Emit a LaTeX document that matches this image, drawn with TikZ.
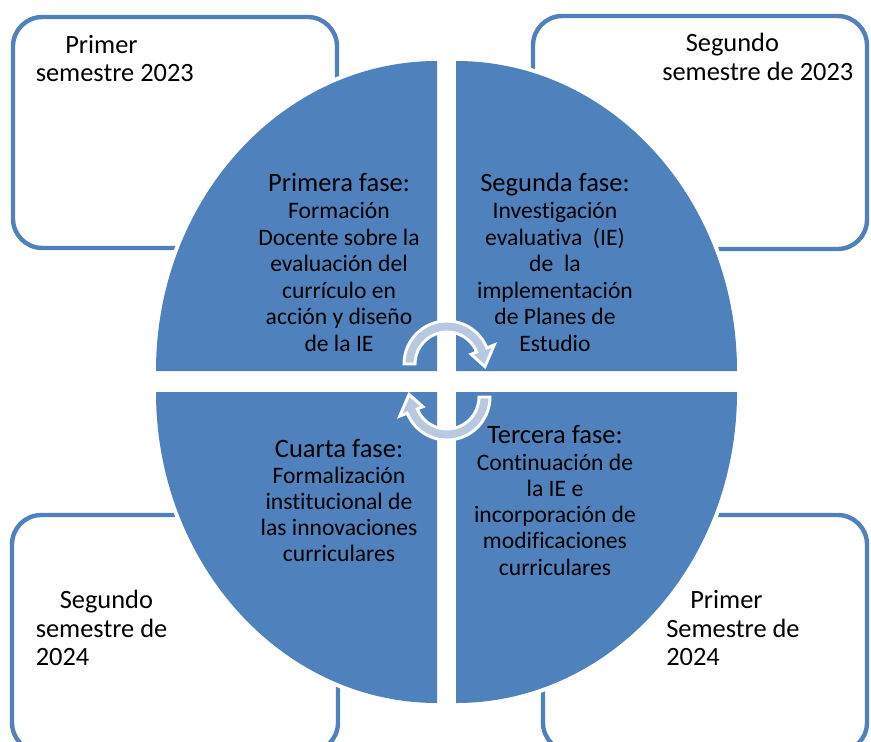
\documentclass[tikz,border=0pt]{standalone}
\usepackage{fontspec}
\setmainfont{Carlito}[Ligatures={NoCommon,NoContextual}]
\definecolor{blueone}{RGB}{79,129,189}
\definecolor{arrowfill}{RGB}{185,200,225}
\tikzset{
  boxline/.style={draw=blueone, line width=3.3pt, rounded corners=22pt, fill=white},
  quad/.style={fill=blueone, preaction={draw=white, line width=6pt}},
  cyc/.style={fill=arrowfill, draw=white, line width=2.2pt, line join=miter},
  ttl/.style={font=\fontsize{19.9}{22}\selectfont, inner sep=0pt, anchor=base},
  body/.style={font=\fontsize{17.7}{20}\selectfont, inner sep=0pt, anchor=base},
  corner/.style={font=\fontsize{19.8}{22}\selectfont, inner sep=0pt, anchor=base west}
}
\begin{document}
\begin{tikzpicture}[x=0.75pt, y=-0.75pt]
\path[use as bounding box, fill=white] (0,0) rectangle (871,742);

% corner boxes
\draw[boxline] (13,17) rectangle (337,248);
\draw[boxline] (533,16) rectangle (867,249);
\draw[boxline] (12,515) rectangle (338,752);
\draw[boxline] (543,515) rectangle (867,752);

% quadrants
\path[quad] (156,371) arc[start angle=180, end angle=90, x radius=210.75pt, y radius=232.5pt] -- (437,371) -- cycle;
\path[quad] (456,61) arc[start angle=90, end angle=0, x radius=210.75pt, y radius=232.5pt] -- (456,371) -- cycle;
\path[quad] (156,392) arc[start angle=180, end angle=270, x radius=210.75pt, y radius=233.25pt] -- (437,392) -- cycle;
\path[quad] (456,703) arc[start angle=270, end angle=360, x radius=210.75pt, y radius=233.25pt] -- (456,392) -- cycle;

% circular arrows
\begin{scope}[shift={(447,364)}]
\path[cyc] (180:24pt) -- (180:32.25pt) arc[start angle=180, end angle=22, radius=32.25pt]
  -- (22:38.25pt) -- (-4:28.5pt) -- (22:19.5pt) -- (22:24pt)
  arc[start angle=22, end angle=180, radius=24pt] -- cycle;
\end{scope}
\begin{scope}[shift={(447,397)}, rotate=180]
\path[cyc] (180:24pt) -- (180:32.25pt) arc[start angle=180, end angle=22, radius=32.25pt]
  -- (22:38.25pt) -- (-4:28.5pt) -- (22:19.5pt) -- (22:24pt)
  arc[start angle=22, end angle=180, radius=24pt] -- cycle;
\end{scope}

% phase texts
\node[ttl] (p1t) at (339,191.7) {Primera fase:};
\foreach \t [count=\i] in {Formación, Docente sobre la, evaluación del, currículo en, acción y diseño, de la IE}
  \node[body] (p1b\i) at (339,{218.7+26.5*(\i-1)}) {\t};

\node[ttl] (p2t) at (555,191.7) {Segunda fase:};
\foreach \t [count=\i] in {Investigación, {evaluativa\ \ (IE)}, {de\ \ la}, implementación, de Planes de, Estudio}
  \node[body] (p2b\i) at (555,{218.7+26.5*(\i-1)}) {\t};

\node[ttl] (p3t) at (555,443.3) {Tercera fase:};
\foreach \t [count=\i] in {Continuación de, la IE e, incorporación de, modificaciones, curriculares}
  \node[body] (p3b\i) at (555,{470.6+26.1*(\i-1)}) {\t};

\node[ttl] (p4t) at (339,457.3) {Cuarta fase:};
\foreach \t [count=\i] in {Formalización, institucional de, las innovaciones, curriculares}
  \node[body] (p4b\i) at (339,{483.5+26.1*(\i-1)}) {\t};

% corner texts
\node[corner] (c1a) at (65,54) {Primer};
\node[corner] (c1b) at (35.5,81.7) {semestre 2023};

\node[corner] (c2a) at (685.5,51.7) {Segundo};
\node[corner] (c2b) at (662,80) {semestre de 2023};

\node[corner] (c3a) at (59.5,608.3) {Segundo};
\node[corner] (c3b) at (35.5,637.3) {semestre de};
\node[corner] (c3c) at (35.5,665.7) {2024};

\node[corner] (c4a) at (690,608.3) {Primer};
\node[corner] (c4b) at (666,637.3) {Semestre de};
\node[corner] (c4c) at (666,665.7) {2024};
\end{tikzpicture}
\end{document}
